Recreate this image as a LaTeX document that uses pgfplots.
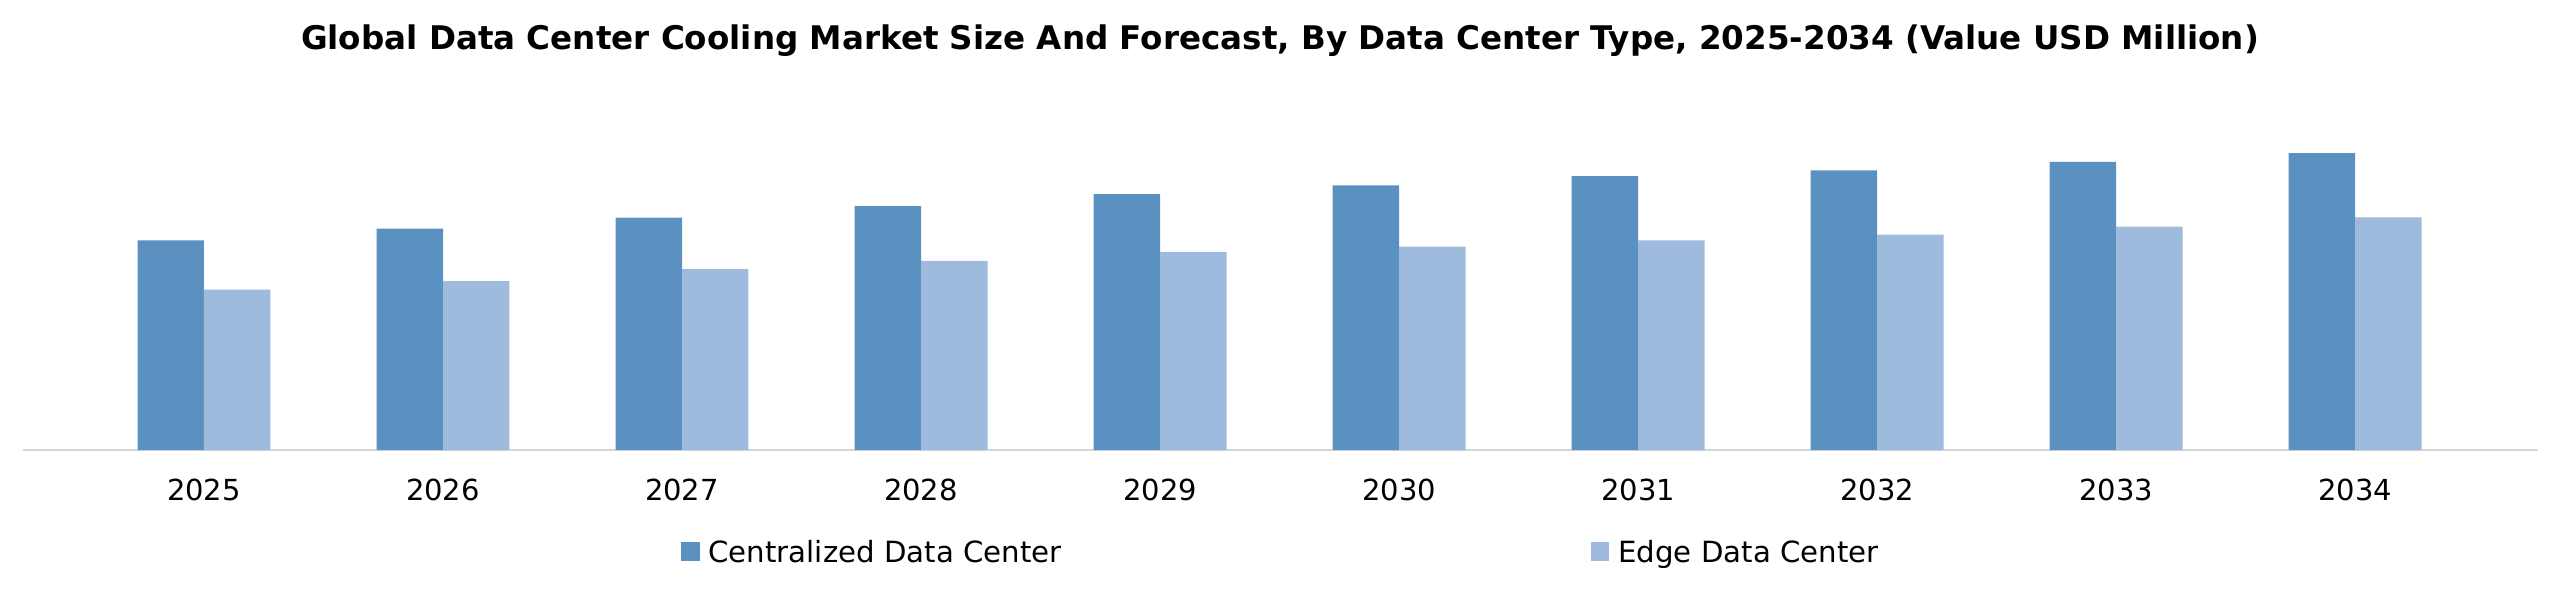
\documentclass[border=0pt]{standalone}
\usepackage{pgfplots}
\pgfplotsset{compat=1.18}
\usepackage{fontspec}
\setmainfont{DejaVu Sans}
\definecolor{darkbar}{RGB}{91,145,192}
\definecolor{lightbar}{RGB}{158,186,221}
\definecolor{axisgray}{RGB}{214,214,214}
\begin{document}
\begin{tikzpicture}
\begin{axis}[
  at={(7.935pt,52.785pt)}, anchor=south west,
  scale only axis,
  width=867.675pt, height=120.75pt,
  xmin=-0.7573, xmax=9.7657,
  ymin=0, ymax=350,
  enlargelimits=false,
  clip=false,
  axis x line*=bottom,
  axis y line=none,
  x axis line style={draw=axisgray, line width=0.8pt, -},
  xtick={0,1,2,3,4,5,6,7,8,9},
  xticklabels={2025,2026,2027,2028,2029,2030,2031,2032,2033,2034},
  major tick length=0pt,
  xtick style={draw=none},
  xticklabel style={font=\fontsize{10}{12}\selectfont, inner sep=0pt, anchor=north, yshift=-9.66pt},
  legend columns=2,
  legend style={draw=none, inner sep=0pt, outer sep=0pt,
    at={(0.26163,-0.29)}, anchor=west,
    font=\fontsize{10.08}{12}\selectfont,
    nodes={inner sep=0pt, text depth=0pt, text height=7.3pt},
    /tikz/every odd column/.append style={column sep=3.1pt},
    /tikz/every even column/.append style={column sep=182.6pt}},
  legend image code/.code={\fill[#1] (0pt,-3.3pt) rectangle (6.4pt,3.3pt);},
]
\addplot[ybar, bar width=22.94pt, bar shift=-11.47pt, fill=darkbar, draw=none] coordinates {
  (0,209.6) (1,221.5) (2,232.3) (3,243.8) (4,255.8) (5,264.6) (6,273.8) (7,279.6) (8,288.1) (9,296.8)};
\addlegendentry{Centralized Data Center}
\addplot[ybar, bar width=22.94pt, bar shift=11.47pt, fill=lightbar, draw=none] coordinates {
  (0,160.3) (1,168.8) (2,180.8) (3,189.2) (4,198.1) (5,203.5) (6,209.6) (7,215.4) (8,223.5) (9,232.7)};
\addlegendentry{Edge Data Center}
\end{axis}
\node[anchor=base, inner sep=0pt, font=\fontsize{11.23}{13}\selectfont\bfseries] at (441.6pt,191.1pt)
  {Global Data Center Cooling Market Size And Forecast, By Data Center Type, 2025-2034 (Value USD Million)};
\pgfresetboundingbox
\path[use as bounding box] (0,0) rectangle (883.2pt,208.035pt);
\end{tikzpicture}
\end{document}
